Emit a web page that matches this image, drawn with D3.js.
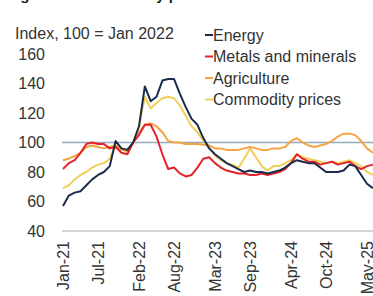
<!DOCTYPE html>
<html>
<head>
<meta charset="utf-8">
<script src="https://cdn.jsdelivr.net/npm/d3@7"></script>
<style>
  body { margin: 0; background: #fff; }
  svg text { font-family: "Liberation Sans", Arial, sans-serif; fill: #333; }
</style>
</head>
<body>
<div id="chart"></div>
<script>
const width = 373;
const height = 296;
const fontSize = 16;

// monthly index values, Jan-21 .. Jun-25 (100 = Jan 2022)
const energy = [57, 64, 66, 67, 71, 75, 78, 80, 84, 101, 96, 95, 100, 111, 138, 128, 131, 142, 143, 143,
    133, 124, 116, 112, 103, 96, 92, 89, 86, 84, 82, 80, 81, 80, 80, 79, 80, 81, 83, 86,
    88, 87, 86, 86, 83, 80, 80, 80, 81, 85, 84, 78, 72, 69];
const metals = [82, 86, 88, 93, 99, 100, 99, 99, 96, 97, 93, 92, 100, 105, 112, 112, 104, 92, 82, 83,
    79, 77, 78, 83, 89, 90, 86, 83, 81, 80, 79, 79, 78, 78, 79, 78, 79, 80, 82, 86,
    92, 89, 87, 87, 85, 86, 87, 85, 86, 87, 84, 82, 84, 85];
const agriculture = [88, 89, 91, 93, 97, 98, 97, 96, 97, 98, 95, 94, 100, 107, 112, 113, 111, 107, 101, 100,
    100, 99, 99, 99, 98.5, 98, 96, 96, 95, 95, 95, 96, 97, 96, 95, 95, 96, 96, 97, 101,
    103, 100, 98, 97, 98, 99, 101, 104, 106, 106, 105, 101, 96, 93];
const commodity = [69, 71, 75, 78, 80, 83, 85, 86, 89, 98, 96, 95, 100, 111, 131, 123, 127, 130, 131, 130,
    125, 118, 111, 107, 101, 97, 91, 88, 86, 85, 83, 89, 96, 90, 84, 81, 84, 84, 86, 88,
    92, 90, 89, 88, 87, 86, 87, 86, 87, 88, 86, 84, 80, 78];

const months = d3.timeMonth.range(new Date(2021, 0, 1), new Date(2025, 6, 1));
const tickLabels = ["Jan-21", "Jul-21", "Feb-22", "Aug-22", "Mar-23", "Sep-23", "Apr-24", "Oct-24", "May-25"];
const yTicks = [40, 60, 80, 100, 120, 140, 160];

const seriesNames = ["Energy", "Metals and minerals", "Agriculture", "Commodity prices"];
const seriesValues = [energy, metals, agriculture, commodity];
const seriesColors = ["#1c2b4b", "#e52229", "#f5a443", "#f1d058"];

const fmt = d3.timeFormat("%b-%y");
const labels = months.map(fmt);

const x = d3.scalePoint()
    .domain(labels)
    .range([63, 63 + 5.846 * (labels.length - 1)]);

const y = d3.scaleLinear()
    .domain([40, 160])
    .range([231, 54]);

const svg = d3.select("#chart")
    .append("svg")
    .attr("width", width)
    .attr("height", height);

// title, cropped off the top edge in the original
svg.append("text")
    .attr("x", 7)
    .attr("y", 0)
    .style("font-size", "15px")
    .style("font-weight", "bold")
    .style("fill", "#222")
    .text("Figure 1.1 Commodity prices");

svg.append("text")
    .attr("x", 15)
    .attr("y", 33)
    .attr("dy", ".35em")
    .style("font-size", fontSize + "px")
    .text("Index, 100 = Jan 2022");

// y tick labels
svg.selectAll(".ylab")
    .data(yTicks)
    .enter()
    .append("text")
    .attr("class", "ylab")
    .attr("x", 45)
    .attr("y", d => y(d))
    .attr("dy", ".35em")
    .attr("text-anchor", "end")
    .style("font-size", fontSize + "px")
    .text(d => d);

// x axis
const xAxis = d3.axisBottom(x)
    .tickValues(tickLabels)
    .tickSize(0)
    .tickPadding(0);

const gx = svg.append("g")
    .attr("transform", "translate(0," + y(40) + ")")
    .call(xAxis);

gx.select(".domain")
    .attr("stroke", "#c6c6c6")
    .attr("stroke-width", 1.5)
    .attr("d", "M62,0H373");

gx.selectAll("text")
    .attr("transform", "rotate(-90)")
    .attr("x", -10)
    .attr("y", 0)
    .attr("dy", ".35em")
    .attr("text-anchor", "end")
    .style("font-size", fontSize + "px")
    .style("font-family", "\"Liberation Sans\", Arial, sans-serif")
    .style("fill", "#333");

// reference line at 100
svg.append("line")
    .attr("x1", 62)
    .attr("x2", 373)
    .attr("y1", y(100))
    .attr("y2", y(100))
    .attr("stroke", "#94abbc")
    .attr("stroke-width", 1.5);

const line = d3.line()
    .x((d, i) => x(labels[i]))
    .y(d => y(d));

// draw commodity first so energy sits on top
for (let s = seriesValues.length - 1; s >= 0; s--) {
    svg.append("path")
        .datum(seriesValues[s])
        .attr("fill", "none")
        .attr("stroke", seriesColors[s])
        .attr("stroke-width", 2)
        .attr("stroke-linejoin", "round")
        .attr("d", line);
}

// legend
const legend = svg.selectAll(".legend")
    .data(seriesNames)
    .enter()
    .append("g")
    .attr("class", "legend")
    .attr("transform", (d, i) => "translate(205," + (35 + i * 21.5) + ")");

legend.append("line")
    .attr("x1", 0)
    .attr("x2", 8)
    .attr("stroke", (d, i) => seriesColors[i])
    .attr("stroke-width", 2);

legend.append("text")
    .attr("x", 8)
    .attr("dy", ".35em")
    .style("font-size", fontSize + "px")
    .text(d => d);
</script>
</body>
</html>
